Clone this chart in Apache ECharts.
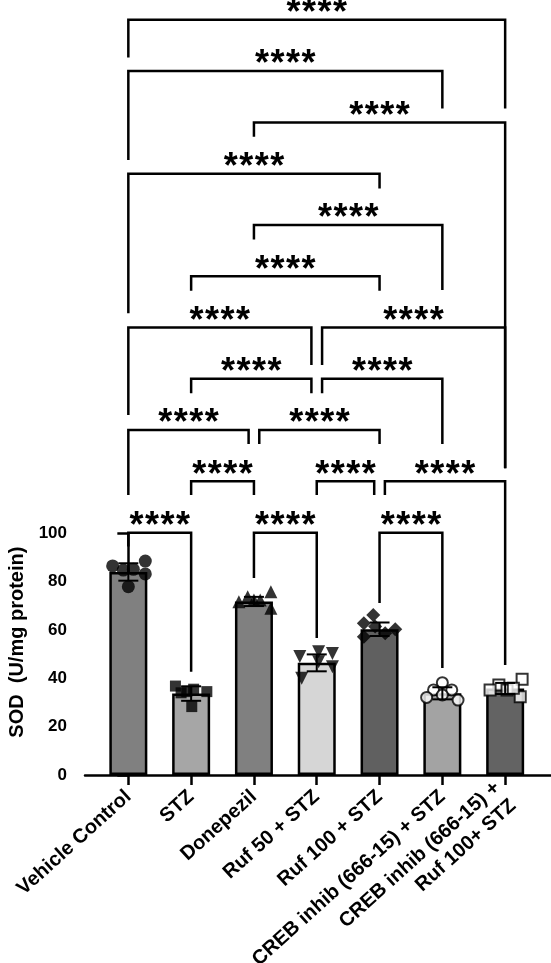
<!DOCTYPE html>
<html><head><meta charset="utf-8">
<script src="https://cdn.jsdelivr.net/npm/echarts@6/dist/echarts.min.js"></script>
<style>html,body{margin:0;padding:0;background:#fff}#c{width:551px;height:963px}</style>
</head><body><div id="c"></div>
<script>
const categories = ['Vehicle Control', 'STZ', 'Donepezil', 'Ruf 50 + STZ', 'Ruf 100 + STZ',
  'CREB inhib (666-15) + STZ', 'CREB inhib (666-15) +\nRuf 100+ STZ'];
const barMeans = [84.0, 33.7, 71.8, 46.4, 60.3, 33.8, 35.8];
const barSD = [3.6, 3.0, 1.9, 3.5, 2.8, 2.5, 2.3];
const pointValues = [
  [86.5, 88.5, 84.8, 85.1, 83.2, 77.9],
  [36.8, 34.5, 35.5, 34.5, 28.3, 34.0],
  [71.7, 73.8, 72.4, 72.4, 75.8, 69.0],
  [49.0, 51.0, 50.3, 46.9, 44.8, 40.0],
  [66.2, 62.8, 61.4, 60.3, 57.2, 58.6],
  [38.2, 35.2, 35.2, 32.1, 31.0, 33.1],
  [39.6, 37.2, 35.2, 35.2, 32.4, 35.9]
];
const pointJitter = [
  [-0.25, 0.27, -0.08, 0.08, 0.27, 0.0],
  [-0.25, -0.07, 0.04, 0.25, 0.01, -0.16],
  [-0.24, -0.10, 0.0, 0.10, 0.27, 0.27],
  [-0.27, 0.03, 0.25, 0.03, 0.25, -0.24],
  [-0.10, -0.25, -0.07, 0.25, -0.25, 0.09],
  [0.0, -0.14, 0.15, -0.25, 0.25, 0.0],
  [0.27, -0.10, -0.24, 0.03, 0.24, 0.13]
];
const yTicks = [0, 20, 40, 60, 80, 100];
const starLabel = '****';
// comparison brackets: [groupA, groupB, bracketHeight, legEndA, legEndB, nudgeA, nudgeB]
const brackets = [
  [0, 1, 100.25, 94.5, 42.7, 0, 0],
  [2, 3, 100.25, 81.5, 56.7, 0, 0],
  [4, 5, 100.25, 71.2, 44.3, 0, 0],
  [1, 2, 121.5, 115.8, 115.8, 0, 0],
  [3, 4, 121.5, 115.8, 115.8, 0, -1],
  [4, 6, 121.5, 115.8, 45.5, 1, 0],
  [0, 2, 142.7, 115.8, 136.9, 0, -1],
  [2, 4, 142.7, 136.9, 136.9, 1, 0],
  [1, 3, 163.9, 157.9, 157.9, 0, -1],
  [3, 5, 163.9, 157.9, 136.9, 1, 0],
  [0, 3, 185.1, 148.9, 169.6, 0, -1],
  [3, 6, 185.1, 169.6, 126.9, 1, 0],
  [1, 4, 206.4, 200.4, 200.4, 0, 0],
  [2, 5, 227.6, 221.6, 200.7, 0, 0],
  [0, 4, 248.8, 191.0, 242.7, 0, 0],
  [2, 6, 270.0, 264.1, 126.9, 0, 0],
  [0, 5, 291.3, 254.4, 275.8, 0, 0],
  [0, 6, 312.5, 296.9, 275.8, 0, 0]
];

const barColors = ['#808080', '#a6a6a6', '#808080', '#d6d6d6', '#606060', '#a3a3a3', '#636363'];
const symbols = ['circle', 'rect', 'triangle', 'triangle', 'diamond', 'circle', 'rect'];
const symbolRot = [0, 0, 0, 180, 0, 0, 0];
const symbolSizes = [13, 11, 13, 13, 14, 11, 11];
const openSym = [false, false, false, false, false, true, true];
const NUDGE = 0.085;
const FONT = '"Liberation Sans", Arial, sans-serif';
const STAR_PX = 36;
const idx = categories.map((c, i) => i);

const chart = echarts.init(document.getElementById('c'), null, {renderer: 'canvas'});

const series = [];
series.push({
  type: 'bar',
  barWidth: 38,
  data: barMeans.map((v, i) => ({value: [i, v], itemStyle: {color: barColors[i]}})),
  itemStyle: {borderColor: '#000', borderWidth: 2.5},
  z: 2, silent: true
});
pointValues.forEach((arr, g) => {
  series.push({
    type: 'scatter',
    symbol: symbols[g],
    symbolRotate: symbolRot[g],
    symbolSize: symbolSizes[g],
    itemStyle: openSym[g] ? {color: '#fff', borderColor: '#000', borderWidth: 2} : {color: '#000'},
    data: arr.map((v, k) => [g + pointJitter[g][k], v]),
    z: 4, silent: true
  });
});
series.push({
  type: 'custom',
  z: 5, silent: true,
  data: barMeans.map((v, i) => [i, v, barSD[i]]),
  renderItem: function (params, api) {
    const x = api.value(0), m = api.value(1), s = api.value(2);
    const top = api.coord([x, m + s]);
    const bot = api.coord([x, m - s]);
    const hw = 10;
    const st = {stroke: '#000', lineWidth: 2};
    return {type: 'group', children: [
      {type: 'line', shape: {x1: top[0], y1: top[1], x2: bot[0], y2: bot[1]}, style: st},
      {type: 'line', shape: {x1: top[0] - hw, y1: top[1], x2: top[0] + hw, y2: top[1]}, style: st},
      {type: 'line', shape: {x1: bot[0] - hw, y1: bot[1], x2: bot[0] + hw, y2: bot[1]}, style: st}
    ]};
  }
});
series.push({
  type: 'custom',
  z: 6, silent: true, clip: false,
  data: brackets.map(b => [b[0], b[2], b[1], b[3], b[4], b[5], b[6]]),
  renderItem: function (params, api) {
    const a = api.value(0) + api.value(5) * NUDGE;
    const b = api.value(2) + api.value(6) * NUDGE;
    const h = api.value(1);
    const p1 = api.coord([a, api.value(3)]);
    const p2 = api.coord([a, h]);
    const p3 = api.coord([b, h]);
    const p4 = api.coord([b, api.value(4)]);
    const cx = (p2[0] + p3[0]) / 2;
    const stars = starLabel.split('').map(c => '{s|' + c + '}').join('');
    return {type: 'group', children: [
      {type: 'polyline', shape: {points: [p1, p2, p3, p4]},
        style: {stroke: '#000', lineWidth: 2.5, fill: null, lineJoin: 'miter'}},
      {type: 'text', x: cx, y: p2[1] - 12 + 0.68 * STAR_PX,
        style: {text: stars, align: 'center', verticalAlign: 'bottom', fill: '#000',
          rich: {s: {width: 15.5, align: 'center', font: 'bold ' + STAR_PX + 'px ' + FONT, fill: '#000'}}}}
    ]};
  }
});

chart.setOption({
  animation: false,
  backgroundColor: '#fff',
  grid: {left: 85, right: 0, top: 533.3, bottom: 188, containLabel: false, outerBoundsMode: 'none'},
  xAxis: {
    type: 'value', min: -0.69, max: 6.73,
    splitLine: {show: false},
    axisLine: {show: true, onZero: false, lineStyle: {color: '#000', width: 2.5}},
    axisTick: {show: true, customValues: idx, length: 10, lineStyle: {color: '#000', width: 2.5}},
    axisLabel: {
      show: true, customValues: idx, rotate: 42, margin: 19,
      formatter: v => categories[Math.round(v)],
      color: '#000', fontWeight: 'bold', fontSize: 20, fontFamily: FONT, lineHeight: 24
    }
  },
  yAxis: {
    type: 'value', min: 0, max: 100, interval: 20,
    splitLine: {show: false},
    name: 'SOD  (U/mg protein)', nameLocation: 'middle', nameGap: 58,
    nameTextStyle: {color: '#000', fontWeight: 'bold', fontSize: 20, fontFamily: FONT, padding: [0, 0, 0, 24]},
    axisLine: {show: true, lineStyle: {color: '#000', width: 2.5}},
    axisTick: {show: true, length: 11, lineStyle: {color: '#000', width: 2.5}},
    axisLabel: {color: '#000', fontWeight: 'bold', fontSize: 17, fontFamily: FONT, margin: 18,
      formatter: v => yTicks.indexOf(v) >= 0 ? String(v) : ''}
  },
  series: series
});
</script>
</body></html>
